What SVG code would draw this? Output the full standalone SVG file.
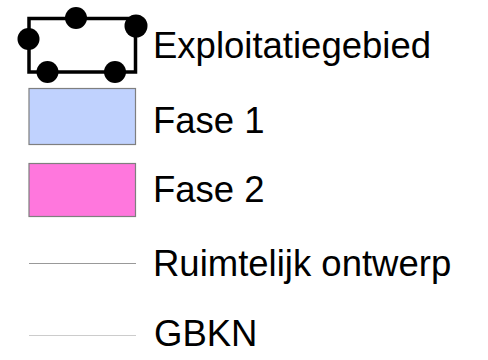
<svg xmlns="http://www.w3.org/2000/svg" width="488" height="360" viewBox="0 0 488 360">
<style>
.lbl{font-family:"Liberation Sans",Arial,sans-serif;font-size:36.5px;fill:#000}
.dot{fill:#000}
.sw{stroke:#7f7f7f;stroke-width:1.2}
</style>
<rect width="488" height="360" fill="#fff"/>
<g id="exploitatiegebied">
<rect x="29" y="18.5" width="106.5" height="53.5" fill="none" stroke="#000" stroke-width="3.5"/>
<circle class="dot" cx="76" cy="18" r="11"/>
<circle class="dot" cx="28.5" cy="39" r="11"/>
<circle class="dot" cx="136" cy="26" r="11.5"/>
<circle class="dot" cx="47.5" cy="72" r="11"/>
<circle class="dot" cx="115" cy="72" r="11"/>
<text class="lbl" x="153" y="58">Exploitatiegebied</text>
</g>
<g id="fase1">
<rect class="sw" x="29" y="88.5" width="106.5" height="56" fill="#c0d2fe"/>
<text class="lbl" x="153" y="133">Fase 1</text>
</g>
<g id="fase2">
<rect class="sw" x="29" y="163.5" width="106.5" height="53" fill="#ff77dd"/>
<text class="lbl" x="153" y="202">Fase 2</text>
</g>
<g id="ruimtelijk">
<line x1="29" y1="263.5" x2="136" y2="263.5" stroke="#999" stroke-width="1"/>
<text class="lbl" x="153" y="276">Ruimtelijk ontwerp</text>
</g>
<g id="gbkn">
<line x1="29" y1="335.5" x2="136" y2="335.5" stroke="#ccc" stroke-width="1"/>
<text class="lbl" x="154" y="346">GBKN</text>
</g>
<g id="connectors"></g>
</svg>
